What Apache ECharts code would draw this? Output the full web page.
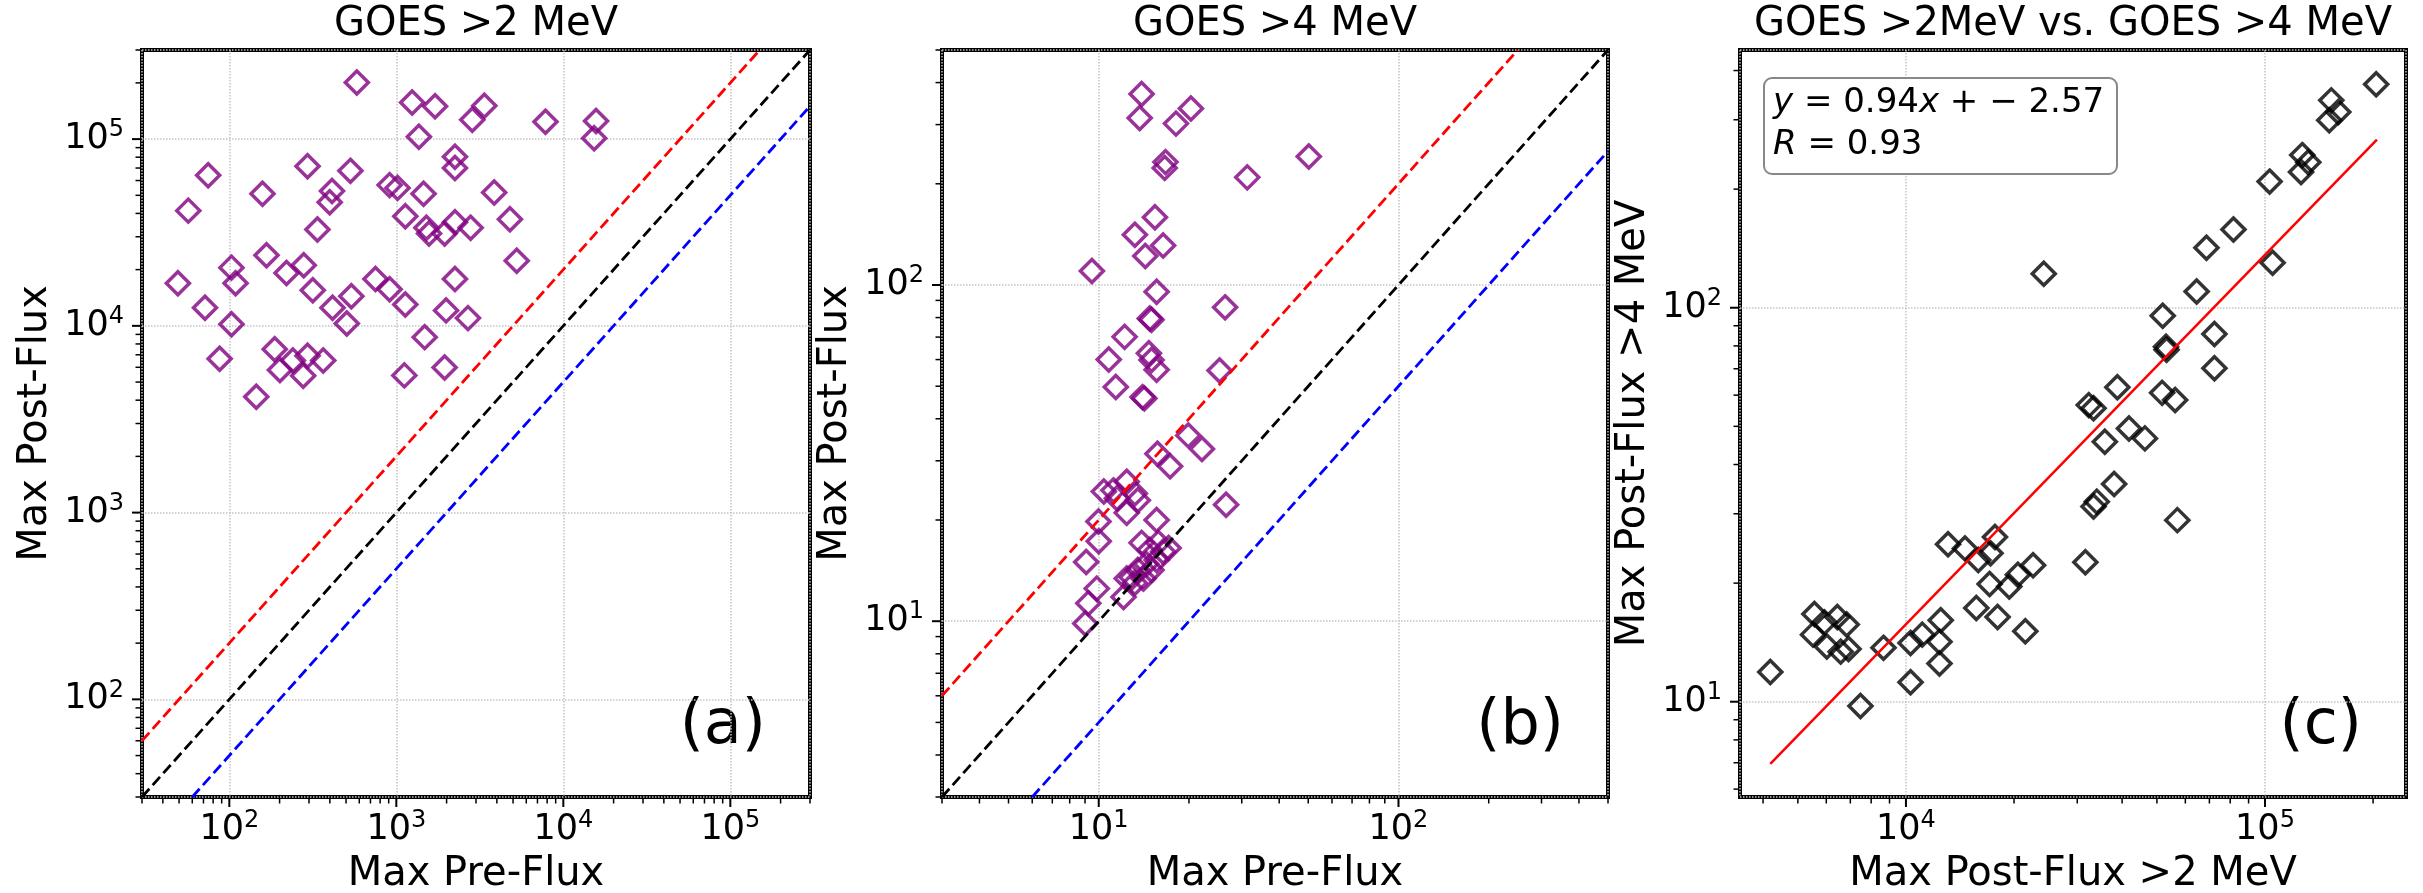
<!DOCTYPE html>
<html><head><meta charset="utf-8">
<script src="https://cdn.jsdelivr.net/npm/echarts@6/dist/echarts.min.js"></script>
<style>html,body{margin:0;padding:0;background:#fff}#c{width:2423px;height:893px}</style>
</head><body><div id="c"></div>
<script>
const FONT = 'DejaVu Sans';
const titles = ['GOES >2 MeV', 'GOES >4 MeV', 'GOES >2MeV vs. GOES >4 MeV'];
const panelLabels = ['(a)', '(b)', '(c)'];
const xNames = ['Max Pre-Flux', 'Max Pre-Flux', 'Max Post-Flux >2 MeV'];
const yNames = ['Max Post-Flux', 'Max Post-Flux', 'Max Post-Flux >4 MeV'];
const fitLines = ['{i|y} = 0.94{i|x} + \u2212 2.57', '{i|R} = 0.93'];

// Panel (a): GOES >2 MeV
const aPre = [580,1244,1706,3365,2850,7820,15700,15300,1365,2245,2245,74.7,294,531,56.8,158,412,399,912,1017,1456,3855,1132,4790,337,1514,1570,1946,2245,2786,167,5260,49.2,103,109,220,279,316,71.5,103,415,538,505,750,912,1132,2245,1986,2686,87.5,187,201,240,294,277,365,145,1117,1479,1946];
const aPost = [201000,157000,150000,151000,127000,124000,125000,101000,103000,80500,70000,64000,71500,67600,41400,51000,52800,45900,56700,54800,51000,51800,38600,37200,32800,33500,31200,31200,35900,33500,23900,22300,16900,20500,16900,19200,21100,15500,12500,10200,12500,14400,10300,17800,15700,13000,17800,12100,11000,6670,7500,5800,6530,6920,5400,6530,4170,5430,8700,5980];

// Panel (b): GOES >4 MeV
const bPre = [13.9,13.7,20.3,18.1,50.2,16.7,16.6,31.3,15.4,13.2,14.3,16.4,9.49,15.6,26.4,14.8,15.0,12.2,10.8,14.7,15.0,15.6,25.3,11.4,14.0,14.2,19.9,22.1,15.7,17.3,26.6,10.4,11.2,12.4,13.2,13.5,12.4,11.5,15.6,9.98,10.0,9.08,9.85,12.1,9.23,9.02,12.9,13.5,14.4,13.9,14.8,15.8,16.4,15.6,14.1,13.2,15.0,17.1,12.4];
const bPost = [370,314,335,302,241,232,223,209,159,141,122,131,110,95.5,85.8,79.5,78.8,70.1,60,62.7,59.8,56,55.7,49.7,46.4,46.0,35.7,32.5,31.5,28.9,22.2,24.3,24.5,26.0,24.0,22.9,21.0,23.2,20.0,19.8,17.3,15.0,12.5,11.8,11.3,9.85,13.5,14.2,14.8,17.1,16.3,17.1,16.1,15.2,13.4,13.0,14.2,16.5,13.4];

// Panel (c): >2 MeV post-flux vs >4 MeV post-flux
const c2MeV = [204000,153000,160000,151000,127000,132000,126000,103000,81700,68700,105000,24200,64500,51900,72300,53000,53200,72300,38800,51700,56200,32300,33300,41800,46300,35800,38000,34000,33300,57000,31600,13100,14600,15900,17700,17200,17100,19400,20500,22600,15700,18000,21500,12500,12400,12400,11100,10300,10300,8660,7470,4190,5560,5930,5510,6440,6840,6020,6580,6920];
const c4MeV = [369,336,314,299,244,234,221,209,158,142,130,122,110,95.4,85.8,79.6,78.2,70.2,62.8,60.8,58.3,56.6,55.6,49.4,46.6,45.7,35.7,32.2,31.3,28.9,22.6,25.1,24.5,22.9,26.2,23.8,19.9,19.6,21.0,22.2,17.3,16.4,15.1,16.1,14.2,12.5,14.8,14.1,11.2,13.7,9.75,11.9,16.7,15.9,14.8,16.4,15.7,13.8,13.4,13.6];
const fitLine = [[4190, 6.95], [205000, 267]];

// Reference lines (y = x, y = 2x, y = x/2)
const aRefOne = [[30, 30], [300000, 300000]];
const aRefTwo = [[30, 60], [150000, 300000]];
const aRefHalf = [[60, 30], [300000, 150000]];
const bRefOne = [[3, 3], [500, 500]];
const bRefTwo = [[3, 6], [250, 500]];
const bRefHalf = [[6, 3], [500, 250]];

// Axis ranges
const ranges = [
  {x: [30, 300000], y: [30, 300000]},
  {x: [3, 500], y: [3, 500]},
  {x: [3450, 247000], y: [5.73, 451]}
];

const zip = (xs, ys) => xs.map((x, k) => [x, ys[k]]);

const gridBoxes = [
  {left: 142, top: 50, width: 668, height: 747},
  {left: 942, top: 50, width: 666, height: 747},
  {left: 1740, top: 50, width: 666, height: 747}
];

function superLabel(v) {
  const e = Math.log10(v);
  const r = Math.round(e);
  if (Math.abs(e - r) > 1e-6) return '';
  return '{b|10}{s|' + r + '}';
}
const labelRich = {
  b: {fontFamily: FONT, fontSize: 35, lineHeight: 42, color: '#000'},
  s: {fontFamily: FONT, fontSize: 24, lineHeight: 24, verticalAlign: 'top', color: '#000'}
};

function axis(i, dim) {
  const r = ranges[i][dim];
  const isX = dim === 'x';
  return {
    type: 'log', logBase: 10, gridIndex: i, min: r[0], max: r[1],
    name: isX ? xNames[i] : yNames[i], nameLocation: 'middle', nameGap: isX ? 78 : 106,
    nameTextStyle: {fontFamily: FONT, fontSize: 40, color: '#000', verticalAlign: 'middle'},
    axisLine: {show: false}, axisTick: {show: false}, minorTick: {show: false},
    axisLabel: {formatter: superLabel, rich: labelRich, margin: isX ? 12 : 18,
      showMinLabel: false, showMaxLabel: false, color: '#000'},
    splitLine: {show: true, lineStyle: {color: '#c4c4c4', width: 1.5, type: 'dotted'}}
  };
}

function tickData(i) {
  const R = ranges[i], out = [];
  ['x', 'y'].forEach(dim => {
    const lo = R[dim][0], hi = R[dim][1];
    for (let e = Math.floor(Math.log10(lo)); e <= Math.ceil(Math.log10(hi)); e++) {
      for (let m = 1; m <= 9; m++) {
        const v = m * Math.pow(10, e);
        if (v < lo * 0.9999 || v > hi * 1.0001) continue;
        const kind = (dim === 'x' ? 0 : 2) + (m === 1 ? 1 : 0);
        out.push(dim === 'x' ? [v, R.y[0], kind] : [R.x[0], v, kind]);
      }
    }
  });
  return out;
}

function tickSeries(i) {
  return {
    type: 'custom', xAxisIndex: i, yAxisIndex: i, data: tickData(i), silent: true, clip: false, z: 6,
    renderItem: (params, api) => {
      const p = api.coord([api.value(0), api.value(1)]);
      const k = api.value(2);
      const major = k % 2 === 1;
      const len = major ? 8 : 4.5;
      const lw = major ? 2 : 1.5;
      const shape = k < 2
        ? {x1: p[0], y1: p[1] + 2, x2: p[0], y2: p[1] + 2 + len}
        : {x1: p[0] - 2, y1: p[1], x2: p[0] - 2 - len, y2: p[1]};
      return {type: 'line', shape: shape, style: {stroke: '#000', lineWidth: lw}};
    }
  };
}

function scatter(i, data, color) {
  return {type: 'scatter', xAxisIndex: i, yAxisIndex: i, data: data, symbol: 'diamond', symbolSize: 23,
    itemStyle: {color: 'rgba(0,0,0,0)', borderColor: color, borderWidth: 3.5}, silent: true, z: 3};
}
function dashed(i, data, color) {
  return {type: 'line', xAxisIndex: i, yAxisIndex: i, data: data, symbol: 'none', silent: true, z: 4,
    lineStyle: {color: color, width: 2.8, type: [11, 5]}};
}

const graphic = [];
gridBoxes.forEach((g, i) => {
  graphic.push({type: 'text', x: g.left + g.width / 2, y: 25, silent: true,
    style: {text: titles[i], fontFamily: FONT, fontSize: 40, fill: '#000', align: 'center', verticalAlign: 'middle'}});
  graphic.push({type: 'text', x: g.left + g.width - 44, y: 727, silent: true,
    style: {text: panelLabels[i], fontFamily: FONT, fontSize: 62, fill: '#000', align: 'right', verticalAlign: 'middle'}});
});
const gc = gridBoxes[2];
graphic.push({type: 'rect', silent: true, z: 10, shape: {x: gc.left + 24, y: gc.top + 28, width: 353, height: 96, r: 8},
  style: {fill: '#fff', stroke: '#888', lineWidth: 2}});
graphic.push({type: 'text', silent: true, z: 11, x: gc.left + 33, y: gc.top + 32,
  style: {text: fitLines.join('\n'), fontFamily: FONT, fontSize: 34, lineHeight: 42, fill: '#000', align: 'left', verticalAlign: 'top',
    rich: {i: {fontFamily: FONT, fontStyle: 'italic', fontSize: 34, lineHeight: 42, color: '#000'}}}});

const option = {
  animation: false,
  backgroundColor: '#fff',
  grid: gridBoxes.map(g => Object.assign({show: true, borderColor: '#000', borderWidth: 4, backgroundColor: 'rgba(0,0,0,0)', containLabel: false, outerBoundsMode: 'none'}, g)),
  xAxis: [axis(0, 'x'), axis(1, 'x'), axis(2, 'x')],
  yAxis: [axis(0, 'y'), axis(1, 'y'), axis(2, 'y')],
  series: [
    scatter(0, zip(aPre, aPost), '#800080'),
    dashed(0, aRefTwo, '#ff0000'), dashed(0, aRefOne, '#000000'), dashed(0, aRefHalf, '#0000ff'),
    scatter(1, zip(bPre, bPost), '#800080'),
    dashed(1, bRefTwo, '#ff0000'), dashed(1, bRefOne, '#000000'), dashed(1, bRefHalf, '#0000ff'),
    scatter(2, zip(c2MeV, c4MeV), '#000000'),
    {type: 'line', xAxisIndex: 2, yAxisIndex: 2, data: fitLine, symbol: 'none', silent: true, z: 4,
      lineStyle: {color: '#ff0000', width: 2.5}},
    tickSeries(0), tickSeries(1), tickSeries(2)
  ],
  graphic: graphic
};

const chart = echarts.init(document.getElementById('c'), null, {renderer: 'canvas'});
chart.setOption(option);
</script></body></html>
